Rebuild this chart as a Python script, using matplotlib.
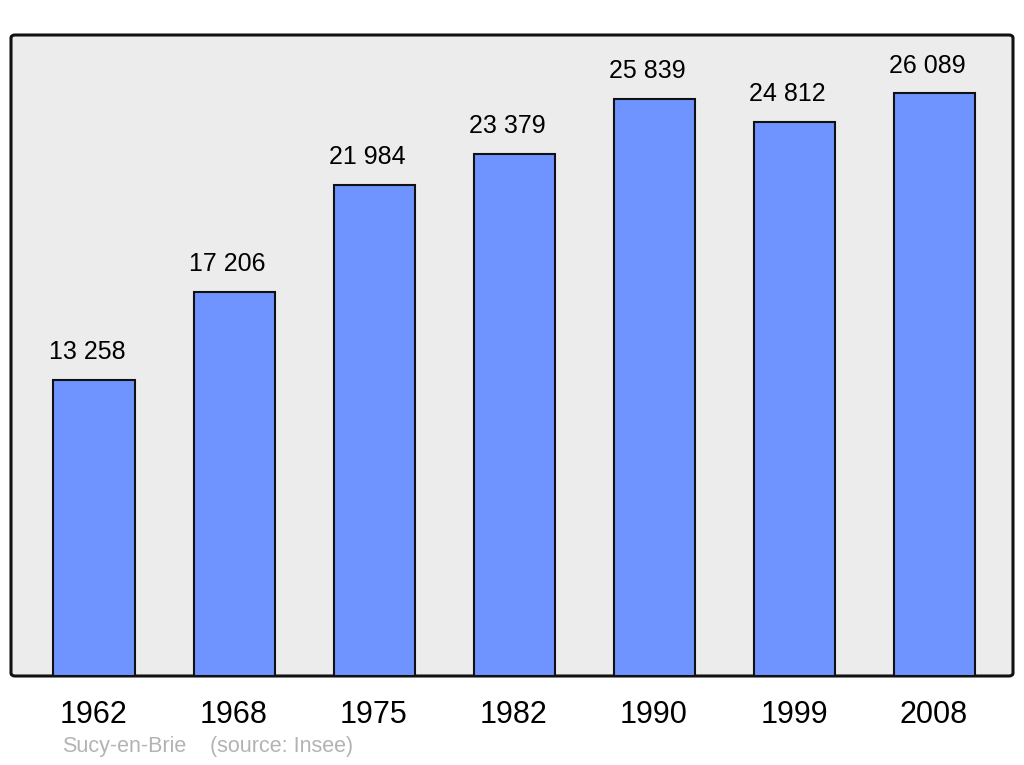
import matplotlib
matplotlib.use("Agg")
import matplotlib.pyplot as plt
from matplotlib.patches import FancyBboxPatch

years = ["1962", "1968", "1975", "1982", "1990", "1999", "2008"]
population = [13258, 17206, 21984, 23379, 25839, 24812, 26089]
town = "Sucy-en-Brie"
source = "(source: Insee)"

plt.rcParams['font.family'] = ['Liberation Sans', 'DejaVu Sans']

W, H = 1024, 765
fig = plt.figure(figsize=(W / 100, H / 100), dpi=100)

# frame
fl, fr, ft, fb = 11, 1013, 35, 676
frame = FancyBboxPatch((fl / W, 1 - fb / H), (fr - fl) / W, (fb - ft) / H,
                       boxstyle="round,pad=0,rounding_size=0.004",
                       transform=fig.transFigure, facecolor="#ececec",
                       edgecolor="#111111", linewidth=2.2, zorder=-1)
fig.patches.append(frame)

ax = fig.add_axes([fl / W, 1 - fb / H, (fr - fl) / W, (fb - ft) / H])
ax.set_zorder(1)
ax.set_facecolor("none")
x = list(range(len(years)))
ax.bar(x, population, width=81 / 140, color="#7094ff", edgecolor="#111111",
       linewidth=1.5, zorder=2)
for xi, v in zip(x, population):
    ax.annotate(f"{v:,}".replace(",", " "), (xi, v), xytext=(-5, 14.8),
                textcoords="offset points", ha="center", va="baseline",
                fontsize=18, color="black")
ax.set_xlim(-83 / 140, 6 + 79 / 140)
ax.set_ylim(0, max(population) * 1.1)
ax.set_xticks(x)
ax.set_xticklabels(years, fontsize=22)
ax.tick_params(axis="x", length=0, pad=17)
ax.set_yticks([])
for s in ax.spines.values():
    s.set_visible(False)

fig.text(62 / W, 1 - 752 / H, town, fontsize=15.5, color="#b3b3b3",
         ha="left", va="baseline")
fig.text(210 / W, 1 - 752 / H, source, fontsize=15.5, color="#b3b3b3",
         ha="left", va="baseline")

fig.savefig("out.png", dpi=100)
